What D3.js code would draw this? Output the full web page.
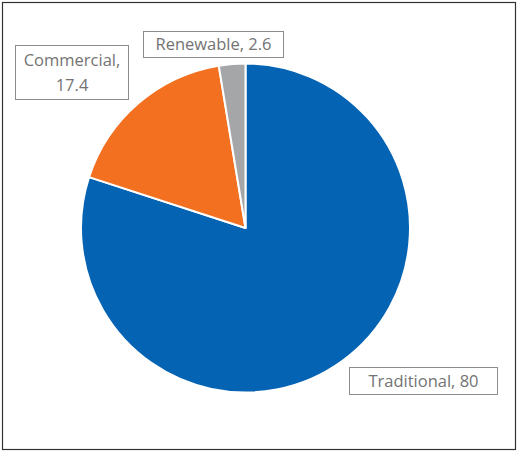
<!DOCTYPE html>
<html><head><meta charset="utf-8">
<script src="https://cdn.jsdelivr.net/npm/d3@7"></script>
<style>body{margin:0;background:#fff}svg{display:block}</style>
</head><body>
<script>
const categories = ["Traditional", "Commercial", "Renewable"];
const values = [80, 17.4, 2.6];
const colors = ["#0563B3", "#F37021", "#A5A6A8"];

const W = 518, H = 454;
const svg = d3.select("body").append("svg").attr("width", W).attr("height", H);
svg.append("rect").attr("x", 2.5).attr("y", 2.5).attr("width", 513).attr("height", 447)
  .attr("fill", "#fff").attr("stroke", "#333").attr("stroke-width", 1.2);

const cx = 245.5, cy = 228, R = 164.5;
const data = categories.map((c, i) => ({name: c, value: values[i], color: colors[i]}));
const pie = d3.pie().value(d => d.value).sort(null);
const arc = d3.arc().innerRadius(0).outerRadius(R);
const g = svg.append("g").attr("transform", `translate(${cx},${cy})`);
g.selectAll("path").data(pie(data)).join("path")
  .attr("d", arc).attr("fill", d => d.data.color)
  .attr("stroke", "#fff").attr("stroke-width", 2).attr("stroke-linejoin", "round");

const labelBoxes = [
  {x: 349, y: 367, w: 148, h: 27, lines: [`${categories[0]}, ${values[0]}`]},
  {x: 15, y: 45, w: 113, h: 54, lines: [`${categories[1]},`, `${values[1]}`]},
  {x: 143, y: 31, w: 140, h: 26, lines: [`${categories[2]}, ${values[2]}`]}
];
const font = "Open Sans, Noto Sans, sans-serif";
labelBoxes.forEach(b => {
  svg.append("rect").attr("x", b.x + 0.5).attr("y", b.y + 0.5).attr("width", b.w).attr("height", b.h)
    .attr("fill", "#fff").attr("stroke", "#8C8C8C").attr("stroke-width", 1);
  const n = b.lines.length;
  b.lines.forEach((t, i) => {
    svg.append("text").attr("x", b.x + b.w / 2 + 0.5)
      .attr("y", b.y + b.h / 2 + (i - (n - 1) / 2) * 25 + 6)
      .attr("text-anchor", "middle").attr("font-family", font)
      .attr("font-size", 16.5).attr("fill", "#737373").text(t);
  });
});
</script>
</body></html>
